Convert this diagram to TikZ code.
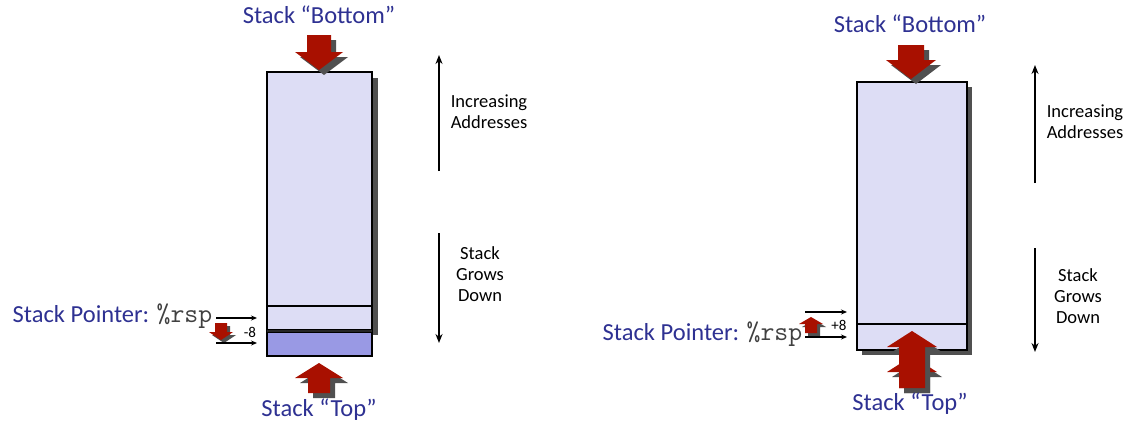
\documentclass[tikz,border=0pt]{standalone}
\usepackage{fontspec}
\setmainfont{Carlito}
\usetikzlibrary{arrows.meta}
\usetikzlibrary{positioning}

\definecolor{stackblue}{RGB}{46,49,146}
\definecolor{stackfill}{RGB}{221,221,245}
\definecolor{pushfill}{RGB}{153,153,228}
\definecolor{arrowred}{RGB}{168,16,0}
\definecolor{shadowgray}{RGB}{80,80,80}

% [shadow] x, tip, base, end, head half width, shaft half width
\newcommand{\blockarrow}[7][5]{%
    \foreach \dd/\col in {#1/shadowgray, 0/arrowred}
        \fill[\col, shift={(\dd,\dd)}]
            (#2,#3) -- (#2-#6,#4) -- (#2-#7,#4) -- (#2-#7,#5)
            -- (#2+#7,#5) -- (#2+#7,#4) -- (#2+#6,#4) -- cycle;
}

\begin{document}
\begin{tikzpicture}[x=1pt, y=-1pt, line width=1.5pt,
    title/.style = {text=stackblue, font=\fontsize{24.5}{28}\selectfont},
    side/.style = {align=center, font=\fontsize{18.5}{21}\selectfont},
    ptr/.style = {-{Stealth[length=6pt, width=5pt]}, line width=1.2pt},
    dir/.style = {line width=2.5pt, -{Stealth[length=9pt, width=7pt]}},
    offs/.style = {font=\fontsize{15}{17}\selectfont, inner sep=0pt}]

    \useasboundingbox (0,0) rectangle (1130,423);

    \def\rspfont{\ttfamily\fontsize{27}{27}\selectfont\color{black!75}}

    % ---------------- push (left)
    \fill[shadowgray] (273,78) rectangle (378,335);
    \draw[fill=stackfill] (267,72) rectangle (372,330);
    \draw (267,306) -- (372,306);
    \draw[fill=pushfill] (267,332) rectangle (372,356);
    \draw[line width=2.5pt, black!85] (267,331) -- (372,331);

    \blockarrow{319}{70}{52}{35}{24}{12}
    \blockarrow{319}{363}{378}{393}{24}{11}
    \blockarrow[3]{221}{340}{332}{323}{12}{6}

    \node[title] (botL) at (319,15) {Stack “Bottom”};
    \node[title] (topL) at (319,410) {Stack “Top”};
    \node[anchor=east, inner sep=0pt] (ptrL) at (213,316)
        {\color{stackblue}\fontsize{24.5}{28}\selectfont Stack Pointer: {\rspfont\%rsp}};
    \node[offs] (decL) at (250,332) {-8};

    \coordinate (oldLs) at (216,318);
    \coordinate (oldL)  at (257,318);
    \coordinate (newLs) at (216,343);
    \coordinate (newL)  at (257,343);
    \draw[ptr] (oldLs) -- (oldL);
    \draw[ptr] (newLs) -- (newL);

    \coordinate (incLs) at (439,171);
    \coordinate (incL)  at (439,55);
    \coordinate (grwLs) at (439,233);
    \coordinate (grwL)  at (439,343);
    \draw[dir] (incLs) -- (incL);
    \draw[dir] (grwLs) -- (grwL);
    \node[side] (addrL) at (489,112) {Increasing\\Addresses};
    \node[side] (downL) at (480,274) {Stack\\Grows\\Down};

    % ---------------- pop (right)
    \fill[shadowgray] (862,87) rectangle (972,355);
    \draw[fill=stackfill] (857,82) rectangle (967,350);
    \draw (857,324) -- (967,324);

    \blockarrow{911}{79}{60}{45}{25}{13}
    \blockarrow{912}{356}{372}{388}{25}{13}
    \blockarrow{912}{331}{347}{388}{25}{13}
    \blockarrow[3]{811}{317}{324}{333}{12}{6}

    \node[title] (botR) at (910,24) {Stack “Bottom”};
    \node[title] (topR) at (910,404) {Stack “Top”};
    \node[anchor=east, inner sep=0pt] (ptrR) at (803,334)
        {\color{stackblue}\fontsize{24.5}{28}\selectfont Stack Pointer: {\rspfont\%rsp}};
    \node[offs] (incR8) at (839,325) {+8};

    \coordinate (newRs) at (805,312);
    \coordinate (newR)  at (847,312);
    \coordinate (oldRs) at (805,337);
    \coordinate (oldR)  at (847,337);
    \draw[ptr] (newRs) -- (newR);
    \draw[ptr] (oldRs) -- (oldR);

    \coordinate (incRs) at (1035,183);
    \coordinate (incR)  at (1035,65);
    \coordinate (grwRs) at (1035,248);
    \coordinate (grwR)  at (1035,352);
    \draw[dir] (incRs) -- (incR);
    \draw[dir] (grwRs) -- (grwR);
    \node[side] (addrR) at (1085,122) {Increasing\\Addresses};
    \node[side] (downR) at (1078,296) {Stack\\Grows\\Down};

\end{tikzpicture}
\end{document}
